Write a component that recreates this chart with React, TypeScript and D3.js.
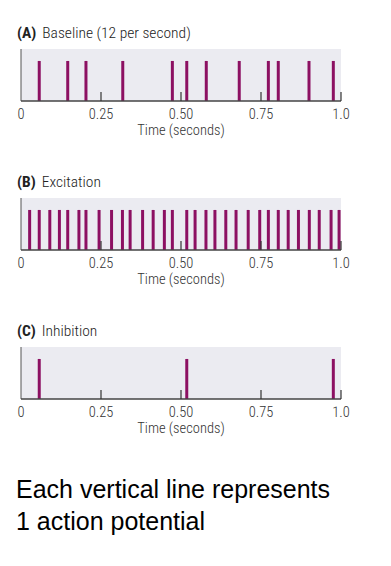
import React from 'react';
import * as d3 from 'd3';

// spike times (seconds)
const baselineSpikes = [0.057, 0.146, 0.203, 0.318, 0.473, 0.518, 0.579, 0.682, 0.773, 0.804, 0.9, 0.976];
const excitationSpikes = [
  0.027, 0.057, 0.09, 0.12, 0.146, 0.181, 0.203, 0.244, 0.283, 0.317, 0.341, 0.38, 0.413, 0.448, 0.473,
  0.518, 0.544, 0.578, 0.606, 0.64, 0.672, 0.71, 0.746, 0.773, 0.804, 0.835, 0.867, 0.901, 0.932, 0.969, 0.994,
];
const inhibitionSpikes = [0.057, 0.518, 0.976];

const panelLetters = ['(A)', '(B)', '(C)'];
const panelTitles = ['Baseline (12 per second)', 'Excitation', 'Inhibition'];
const tickValues = [0, 0.25, 0.5, 0.75, 1.0];
const tickLabels = ['0', '0.25', '0.50', '0.75', '1.0'];
const axisTitle = 'Time (seconds)';
const footerLines = ['Each vertical line represents', '1 action potential'];

const W = 391;
const H = 566;
const condensed = "'Roboto Condensed', 'Liberation Sans Narrow', 'DejaVu Sans Condensed', sans-serif";

const Panel = ({ spikes, letter, title, top }: { spikes: number[]; letter: string; title: string; top: number }) => {
  const x = d3.scaleLinear().domain([0, 1]).range([21, 341]);
  const plotH = 52;
  const y = d3.scaleLinear().domain([0, 1]).range([top + plotH, top]);
  const base = y(0);
  return (
    <g>
      <text x={17} y={top - 11} fontFamily={condensed} fontSize={15.5} fontWeight={300} fill="#222">
        <tspan fontWeight="bold">{letter}</tspan>
        <tspan dx={6}>{title}</tspan>
      </text>
      <rect x={x(0)} y={top} width={x(1) - x(0)} height={plotH} fill="#ebebf1" />
      {spikes.map((t, i) => (
        <line key={i} x1={x(t)} x2={x(t)} y1={base} y2={y(0.77)} stroke="#8c1062" strokeWidth={3} />
      ))}
      <line x1={x(0)} x2={x(0)} y1={top} y2={base} stroke="#555" strokeWidth={1} />
      <line x1={x(0)} x2={x(1)} y1={base} y2={base} stroke="#444" strokeWidth={1.3} />
      {tickValues.slice(1).map((t, i) => (
        <line key={i} x1={x(t)} x2={x(t)} y1={base} y2={base - 9} stroke="#333" strokeWidth={1.2} />
      ))}
      {tickValues.map((t, i) => (
        <text key={i} x={x(t)} y={base + 18} textAnchor="middle" fontFamily={condensed} fontSize={14.5} fontWeight={300} fill="#333">
          {tickLabels[i]}
        </text>
      ))}
      <text x={x(0.5)} y={base + 34} textAnchor="middle" fontFamily={condensed} fontSize={14.5} fontWeight={300} fill="#333">
        {axisTitle}
      </text>
    </g>
  );
};

export default function App() {
  const panels = [baselineSpikes, excitationSpikes, inhibitionSpikes];
  const tops = [49, 198, 347];
  return (
    <svg width={W} height={H} style={{ position: 'absolute', left: 0, top: 0, background: '#fff' }}>
      {panels.map((s, i) => (
        <Panel key={i} spikes={s} letter={panelLetters[i]} title={panelTitles[i]} top={tops[i]} />
      ))}
      {footerLines.map((l, i) => (
        <text key={i} x={16} y={498 + i * 32} fontFamily="'Liberation Sans', Arial, sans-serif" fontSize={25} fill="#000">
          {l}
        </text>
      ))}
    </svg>
  );
}
